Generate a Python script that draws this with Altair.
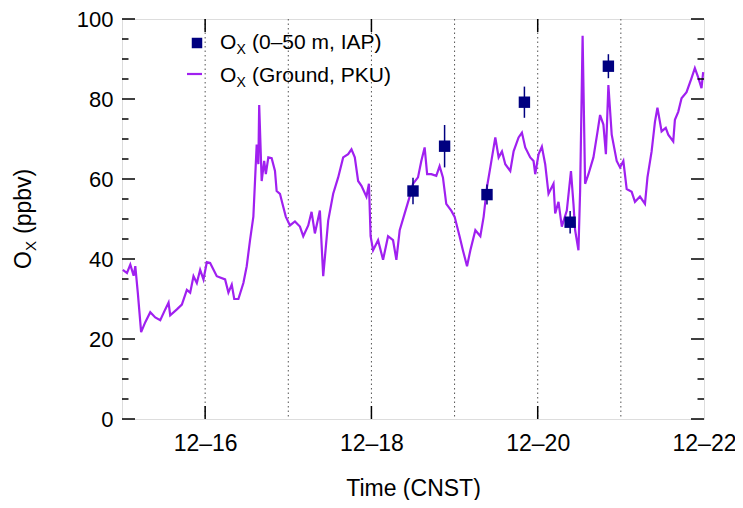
import altair as alt
import pandas as pd

# ---- data ----
day = [15.01, 15.06, 15.10, 15.14, 15.16, 15.19, 15.23, 15.28, 15.34, 15.40, 15.46, 15.52, 15.56, 15.58,
       15.66, 15.72, 15.78, 15.82, 15.86, 15.90, 15.94, 15.98, 16.02, 16.06, 16.14, 16.24, 16.28, 16.32,
       16.35, 16.40, 16.46, 16.50, 16.54, 16.58, 16.62, 16.64, 16.65, 16.68, 16.71, 16.73, 16.76, 16.80,
       16.84, 16.86, 16.90, 16.93, 16.97, 17.02, 17.08, 17.14, 17.18, 17.24, 17.28, 17.32, 17.38, 17.42,
       17.48, 17.54, 17.60, 17.66, 17.72, 17.76, 17.80, 17.84, 17.88, 17.94, 17.97, 17.99, 18.02, 18.08,
       18.14, 18.20, 18.26, 18.30, 18.34, 18.40, 18.46, 18.50, 18.56, 18.60, 18.64, 18.67, 18.72, 18.78,
       18.82, 18.86, 18.90, 18.96, 19.00, 19.06, 19.10, 19.15, 19.19, 19.25, 19.31, 19.35, 19.39, 19.43,
       19.49, 19.53, 19.57, 19.61, 19.67, 19.71, 19.77, 19.81, 19.85, 19.91, 19.95, 19.97, 20.01, 20.05,
       20.09, 20.13, 20.19, 20.21, 20.25, 20.29, 20.35, 20.40, 20.43, 20.45, 20.49, 20.51, 20.54, 20.57,
       20.61, 20.67, 20.72, 20.75, 20.79, 20.82, 20.85, 20.89, 20.95, 20.99, 21.03, 21.07, 21.13, 21.17,
       21.23, 21.29, 21.32, 21.37, 21.41, 21.44, 21.49, 21.54, 21.57, 21.63, 21.65, 21.69, 21.73, 21.79,
       21.85, 21.89, 21.93, 21.97, 21.99]
ox_ground = [37.3, 36.5, 38.6, 35.8, 38.2, 31.6, 21.7, 24.2, 26.7, 25.4, 24.7, 27.4, 29.1, 25.9,
             27.4, 28.6, 32.3, 31.6, 35.7, 34.0, 37.3, 34.9, 39.2, 39.0, 35.7, 34.9, 31.6, 33.6,
             30.0, 30.0, 34.0, 38.2, 44.7, 50.6, 68.6, 63.7, 78.5, 59.5, 64.5, 61.2, 65.4, 65.2,
             62.0, 57.0, 56.3, 53.8, 50.6, 48.4, 49.4, 48.1, 45.7, 48.4, 51.8, 46.4, 52.1, 35.7,
             49.6, 56.3, 60.4, 65.4, 66.2, 67.4, 65.4, 59.5, 58.3, 55.6, 58.8, 45.7, 42.2, 44.7,
             39.8, 45.7, 44.7, 39.8, 47.2, 51.4, 55.6, 58.8, 60.4, 64.5, 67.9, 61.2, 61.2, 60.8,
             63.2, 60.4, 53.8, 52.1, 50.6, 45.7, 42.2, 38.2, 42.2, 47.2, 45.7, 50.6, 58.0, 62.9,
             70.4, 65.4, 66.9, 63.7, 62.0, 66.9, 70.4, 71.6, 67.9, 65.4, 64.5, 61.2, 66.2, 68.1,
             63.7, 56.3, 58.8, 51.4, 54.3, 48.1, 52.1, 62.0, 53.8, 47.2, 42.2, 57.0, 95.8, 58.8,
             61.2, 65.4, 71.9, 76.0, 73.6, 66.2, 83.5, 71.1, 64.5, 62.9, 64.5, 57.5, 56.8, 54.3,
             55.6, 53.8, 60.4, 66.9, 74.3, 77.8, 71.9, 72.8, 71.1, 69.4, 74.8, 76.8, 80.2, 81.7,
             85.2, 87.7, 85.4, 82.7, 86.7]

iap_day = [18.50, 18.88, 19.39, 19.84, 20.39, 20.85]
iap_ox = [57.0, 68.2, 56.1, 79.2, 49.2, 88.2]
iap_err = [3.3, 5.3, 2.5, 3.9, 2.8, 3.0]

grid_days = [16, 17, 18, 19, 20, 21]
x_tick_days = [16, 18, 20, 22]
x_major_ticks = [16, 18, 20]
y_major = [0, 20, 40, 60, 80, 100]
y_minor = [5, 10, 15, 25, 30, 35, 45, 50, 55, 65, 70, 75, 85, 90, 95]

legend_labels = ["(0–50 m, IAP)", "(Ground, PKU)"]
y_title_rest = "(ppbv)"

# ---- layout ----
W, H = 582, 400
FONT = "Liberation Sans"
PURPLE = "#a020f0"
NAVY = "#000080"

line_df = pd.DataFrame({"day": day, "ox": ox_ground})
iap_df = pd.DataFrame({"day": iap_day, "ox": iap_ox,
                       "lo": [v - e for v, e in zip(iap_ox, iap_err)],
                       "hi": [v + e for v, e in zip(iap_ox, iap_err)]})
one = pd.DataFrame({"k": [0]})

xs = alt.Scale(domain=[15, 22], nice=False, zero=False)
ys = alt.Scale(domain=[0, 100], nice=False, zero=False)

xaxis = alt.Axis(values=x_tick_days, labelExpr="'12–' + datum.value", ticks=False, tickSize=0,
                 domain=False, grid=False, labelPadding=13, labelFlush=False, labelOverlap=False,
                 title="Time (CNST)", titlePadding=22, labelFontSize=23, titleFontSize=23,
                 labelFont=FONT, titleFont=FONT, titleFontWeight="normal",
                 labelColor="black", titleColor="black")
yaxis = alt.Axis(values=y_major, ticks=False, tickSize=0, domain=False, grid=False,
                 labelPadding=9, labelFlush=False, labelOverlap=False, title=None,
                 labelFontSize=22, labelFont=FONT, labelColor="black")

X = alt.X("day:Q", scale=xs, axis=xaxis)
Y = alt.Y("ox:Q", scale=ys, axis=yaxis)

grid = alt.Chart(pd.DataFrame({"day": grid_days})).mark_rule(
    color="#555555", strokeDash=[1.5, 3], strokeWidth=1).encode(x=X)

line = alt.Chart(line_df).mark_line(color=PURPLE, strokeWidth=2.2).encode(x=X, y=Y)

err = alt.Chart(iap_df).mark_rule(color=NAVY, strokeWidth=1.5).encode(
    x=X, y=alt.Y("lo:Q", scale=ys, axis=yaxis), y2="hi:Q")
pts = alt.Chart(iap_df).mark_point(shape="square", filled=True, size=130, color=NAVY,
                                   opacity=1).encode(x=X, y=Y)

# frame ticks (inward)
xt = pd.DataFrame({"day": x_major_ticks})
xt_bot = alt.Chart(xt).mark_rule(color="black", strokeWidth=1.5).encode(
    x=X, y=alt.value(H), y2=alt.value(H - 13))
xt_top = alt.Chart(xt).mark_rule(color="black", strokeWidth=1.5).encode(
    x=X, y=alt.value(0), y2=alt.value(13))

ymaj = pd.DataFrame({"ox": y_major})
ymin = pd.DataFrame({"ox": y_minor})
def yticks(df, length):
    left = alt.Chart(df).mark_rule(color="black", strokeWidth=1.5).encode(
        y=Y, x=alt.value(0), x2=alt.value(length))
    right = alt.Chart(df).mark_rule(color="black", strokeWidth=1.5).encode(
        y=Y, x=alt.value(W), x2=alt.value(W - length))
    return [left, right]

ticks = yticks(ymaj, 13) + yticks(ymin, 6.5)

# legend
def txt(s, x, y, size, dx=0, dy=0, angle=None, align="left", baseline="alphabetic"):
    kw = dict(text=s, fontSize=size, font=FONT, color="black", align=align, baseline=baseline,
              dx=dx, dy=dy)
    if angle is not None:
        kw["angle"] = angle
    return alt.Chart(one).mark_text(**kw).encode(x=alt.value(x), y=alt.value(y))

LFS = 21
leg = []
leg.append(alt.Chart(one).mark_point(shape="square", filled=True, size=110, color=NAVY,
                                     opacity=1).encode(x=alt.value(75), y=alt.value(24)))
leg.append(alt.Chart(one).mark_rule(color=PURPLE, strokeWidth=2.2).encode(
    x=alt.value(65), x2=alt.value(80), y=alt.value(55)))
for i, (lab, yy) in enumerate(zip(legend_labels, [30, 63])):
    leg.append(txt("O", 98, yy, LFS))
    leg.append(txt("X", 98, yy, 14, dx=16.5, dy=5))
    leg.append(txt(lab, 98, yy, LFS, dx=32))

# y title
yt = []
yt.append(txt("O", -91, 250, 23, angle=270))
yt.append(txt("X", -91, 250, 15, dx=18, dy=5, angle=270))
yt.append(txt(y_title_rest, -91, 250, 23, dx=35, angle=270))

chart = alt.layer(grid, line, err, pts, xt_bot, xt_top, *ticks, *leg, *yt).properties(
    width=W, height=H,
    autosize=alt.AutoSizeParams(type="none"),
    padding={"left": 114, "top": 11, "right": 31, "bottom": 81},
).configure_view(stroke="black", strokeWidth=2).configure(background="white")

chart.save("out.html", embed_options={"renderer": "svg", "actions": False})
